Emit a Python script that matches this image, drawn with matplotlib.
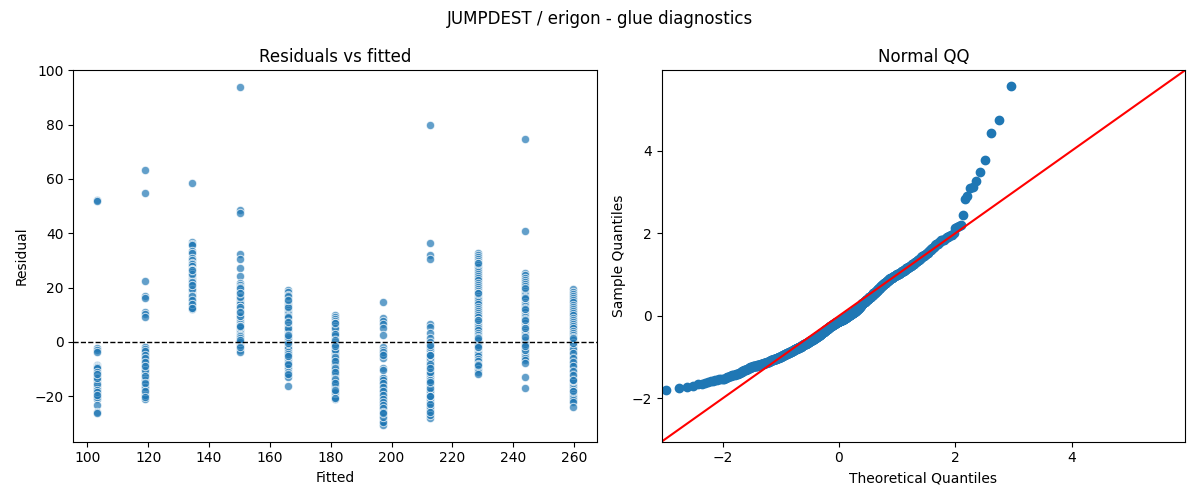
import numpy as np
import matplotlib
matplotlib.use("Agg")
import matplotlib.pyplot as plt
from statistics import NormalDist

# fitted value of each group (one column of points per group)
fitted_levels = [103.2, 118.8, 134.5, 150.1, 165.8, 181.4, 197.1, 212.7, 228.4, 244.0, 259.7]

# residuals, one list per fitted level
res_g1 = [52.4, 52.0, -2.4, -2.9, -3.6, -8.6, -9.0, -9.4, -9.9, -10.3, -10.6, -11.0, -11.5, -11.9,
          -12.2, -12.6, -13.1, -13.5, -13.9, -14.3, -14.8, -15.2, -15.6, -16.0, -16.4, -16.9, -17.3,
          -17.7, -18.1, -18.6, -19.0, -19.4, -19.8, -20.2, -20.6, -21.0, -23.4, -26.0, -26.2, -10.1,
          -12.0, -16.2, -17.0, -20.4, -9.2, -9.6, -11.2, -12.8, -14.0, -15.4, -17.6, -18.4, -19.6,
          -13.3, -11.7]
res_g2 = [63.4, 55.0, 22.5, 17.0, 16.3, 10.8, 10.2, 9.0, -1.8, -2.3, -3.0, -3.7, -4.4, -5.1, -5.7,
          -6.3, -7.0, -7.6, -8.2, -8.8, -9.4, -10.0, -10.6, -11.2, -11.8, -12.4, -13.0, -13.6, -14.2,
          -14.8, -15.4, -16.0, -16.6, -17.2, -17.8, -18.5, -19.2, -19.9, -20.6, -21.2, -2.0, -5.5,
          -8.5, -11.5, -14.0, -16.8, -19.5, -10.3, -4.0, -6.8, -2.6, -3.4, -4.8, -6.0, -7.3, -9.1,
          -12.7, -15.1, -18.2, -20.2]
res_g3 = [58.6, 36.8, 36.2, 35.5, 33.5, 32.8, 30.7, 30.0, 29.2, 28.5, 27.8, 27.0, 26.3, 25.6, 25.0,
          24.3, 23.6, 23.0, 22.4, 21.7, 21.1, 20.5, 19.9, 19.2, 18.6, 18.0, 17.4, 16.8, 16.2, 15.6,
          15.0, 14.4, 13.8, 13.2, 12.6, 12.0, 24.8, 22.0, 19.5, 17.0, 15.3, 26.5, 20.8, 14.0, 12.3]
res_g4 = [93.8, 48.6, 47.4, 32.5, 30.6, 27.3, 24.4, 21.8, 21.0, 20.2, 19.4, 18.6, 17.8, 17.0, 16.2,
          15.4, 14.6, 13.8, 13.0, 12.2, 11.4, 10.6, 9.8, 9.0, 8.2, 7.4, 6.6, 5.8, 5.0, 4.2, 3.4, 2.6,
          1.8, 1.0, 0.2, -0.6, -1.4, -2.4, -3.2, -3.9, 20.0, 16.5, 12.8, 9.4, 5.5, 2.0, -1.0, 18.0,
          11.0, 6.0, 0.5, 1.4, -0.2, 0.8, -2.0]
res_g5 = [19.0, 18.2, 17.4, 16.6, 15.8, 15.0, 14.2, 13.4, 12.6, 11.8, 11.0, 10.2, 9.4, 8.6, 7.8, 7.0,
          6.2, 5.4, 4.6, 3.8, 3.0, 2.2, 1.4, 0.6, -0.2, -1.0, -1.8, -2.6, -3.4, -4.2, -6.3, -7.4, -8.6,
          -9.8, -11.0, -12.2, -12.9, -16.2, 17.0, 13.0, 9.0, 5.0, 1.0, -3.0, 15.3, 7.3, -0.5, -8.0,
          -12.0, -1.4, -2.2, -3.8, -4.6, -5.4, 0.2, -0.6, 1.8, 2.6]
res_g6 = [10.0, 9.2, 8.4, 7.6, 6.8, 6.0, 5.2, 4.4, 3.6, 2.8, 2.0, 1.2, 0.4, -0.4, -1.2, -2.0, -2.8,
          -3.6, -4.4, -5.2, -6.0, -6.8, -7.6, -8.4, -9.2, -10.0, -10.8, -11.6, -12.4, -13.2, -14.0,
          -14.8, -15.6, -16.4, -17.2, -18.0, -18.8, -19.6, -20.4, -21.2, 5.0, 0.0, -4.0, -8.0, -12.0,
          -16.0, -19.0, 7.0, -2.5, -10.5, -14.5, -18.5, 3.0, -6.5, -20.8, -1.6, -3.2, -5.6, -7.2,
          -9.6, -11.2, -13.6, -15.2, -17.6, -0.8, 0.8, -1.6]
res_g7 = [14.8, 8.9, 7.6, 6.4, 5.2, 2.6, -2.0, -3.2, -4.5, -5.8, -9.6, -12.9, -13.8, -14.7, -15.6,
          -16.5, -17.4, -18.3, -19.2, -20.1, -21.0, -21.9, -22.8, -23.7, -24.6, -25.5, -26.4, -27.3,
          -28.2, -29.1, -30.0, -30.6, -13.5, -16.0, -18.8, -21.4, -24.0, -26.8, -29.5, -15.0, -20.5,
          -25.0, -17.8, -22.5, -27.8, -13.2, -14.2, -15.3, -16.8, -18.0, -19.6, -21.2, -22.2, -23.3,
          -24.3, -25.8, -26.1, -3.8, -5.0, -10.5]
res_g8 = [79.8, 36.5, 32.0, 30.6, 6.6, 5.4, 3.4, 1.5, 0.0, -2.5, -3.5, -4.5, -5.5, -6.5, -7.5, -8.5,
          -9.5, -10.5, -11.5, -12.5, -13.5, -14.5, -15.5, -16.5, -17.5, -18.5, -19.5, -20.5, -21.5,
          -22.5, -23.5, -24.5, -25.5, -26.5, -28.0, -4.0, -7.0, -10.0, -13.0, -16.0, -19.0, -22.0,
          -25.0, -6.0, -12.0, -18.0, -24.0, -9.0, -15.0, -21.0, -27.0, -3.0, -5.0, -8.0, -11.0,
          -14.0, -17.0, -20.0, -23.0, -26.0, -2.0, -4.8, -9.8, -14.8, -19.8, -1.0]
res_g9 = [32.6, 32.0, 31.4, 30.6, 29.8, 29.0, 28.2, 27.4, 26.6, 25.8, 25.0, 24.2, 23.4, 22.6, 21.8,
          21.0, 20.2, 19.4, 18.6, 17.8, 17.0, 16.2, 15.4, 14.6, 13.8, 13.0, 12.2, 11.4, 10.6, 9.8, 9.0,
          8.2, 7.4, 6.6, 5.8, 5.0, 4.2, 3.4, 2.6, 1.8, 1.0, 0.2, -0.6, -1.4, -2.2, -3.0, -3.8, -4.6,
          -5.4, -6.2, -7.0, -8.0, -9.0, -10.0, -11.0, -11.9, 29.0, 18.0, 8.0, -2.0, -8.5, 0.6, -1.0,
          1.4, -1.8]
res_g10 = [74.6, 40.9, 25.3, 24.5, 23.6, 22.8, 22.0, 21.2, 20.4, 19.6, 18.8, 18.0, 17.2, 16.4, 15.6,
           14.8, 14.0, 13.2, 12.4, 11.6, 10.8, 10.0, 9.2, 8.4, 7.6, 6.8, 6.0, 5.2, 4.4, 3.6, 2.8, 2.0,
           1.2, 0.4, -0.4, -1.2, -2.0, -2.8, -3.6, -4.4, -5.2, -6.0, -6.8, -7.9, -13.0, -17.2, 20.0,
           12.0, 5.0, -3.0, 16.0, 8.0, 0.0, 0.8, -0.8, 1.6, -1.6]
res_g11 = [19.3, 18.5, 17.7, 16.9, 16.1, 15.3, 14.5, 13.7, 12.9, 12.1, 11.3, 10.5, 9.7, 8.9, 8.1, 7.3,
           6.5, 5.7, 4.9, 4.1, 3.3, 2.5, 1.7, 0.9, 0.1, -0.7, -1.5, -2.3, -3.1, -3.9, -4.7, -5.5, -6.3,
           -7.1, -7.9, -8.7, -9.5, -10.3, -11.1, -11.9, -12.7, -13.5, -14.3, -15.1, -15.9, -16.7,
           -17.5, -18.3, -19.1, -19.9, -20.7, -21.5, -22.3, -23.9, -2.0, -8.0, -14.0, -18.0, -0.3,
           -1.1, -2.7, -4.3, -5.9, -7.5, -9.1, -10.7, -12.3, -13.9, 0.5, -0.4, 1.3]

groups = [res_g1, res_g2, res_g3, res_g4, res_g5, res_g6, res_g7, res_g8, res_g9, res_g10, res_g11]

fitted = np.concatenate([[f] * len(g) for f, g in zip(fitted_levels, groups)])
resid = np.concatenate([np.array(g) for g in groups])

# QQ: standardised residuals vs normal plotting positions i/(n+1)
n = len(resid)
sample_q = np.sort((resid - resid.mean()) / resid.std())
theo_q = np.array([NormalDist().inv_cdf(i / (n + 1)) for i in range(1, n + 1)])

fig, (ax1, ax2) = plt.subplots(1, 2, figsize=(12, 5), dpi=100)

ax1.scatter(fitted, resid, s=36, color='#1f77b4', alpha=0.7, edgecolor='white', linewidth=0.75)
ax1.axhline(0, color='black', linestyle='--', linewidth=1)
ax1.set_title('Residuals vs fitted')
ax1.set_xlabel('Fitted')
ax1.set_ylabel('Residual')

ax2.plot(theo_q, sample_q, 'o', color='#1f77b4', markersize=6)
lims = [-3.05, 5.95]
ax2.plot(lims, lims, color='red', linewidth=1.5)
ax2.set_xlim(lims)
ax2.set_ylim(lims)
ax2.set_xticks([-2, 0, 2, 4])
ax2.set_yticks([-2, 0, 2, 4])
ax2.set_title('Normal QQ')
ax2.set_xlabel('Theoretical Quantiles')
ax2.set_ylabel('Sample Quantiles')

fig.suptitle('JUMPDEST / erigon - glue diagnostics')
plt.tight_layout()
plt.savefig('out.png')
